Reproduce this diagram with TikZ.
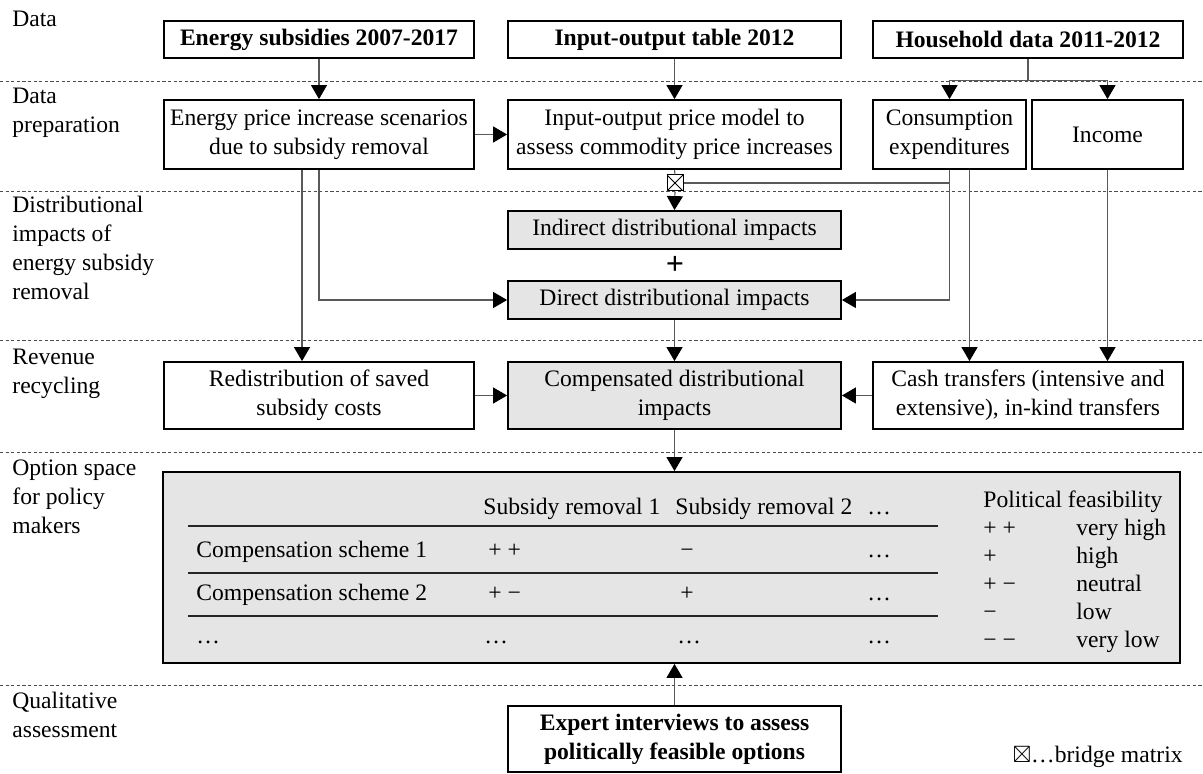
\documentclass[tikz,border=0pt]{standalone}
\usepackage{amssymb}
\usepackage{fontspec}
\setmainfont{Liberation Serif}
\usepackage{tikz}
\usetikzlibrary{positioning,arrows.meta,calc}

\begin{document}
\begin{tikzpicture}[
      x=0.5pt, y=-0.5pt,
      txt/.style   = {font=\fontsize{11.8}{14.5}\selectfont},
      box/.style   = {rectangle, draw, line width=0.9pt, txt, align=center, inner sep=1pt},
      gbox/.style  = {box, fill=black!10},
      hbox/.style  = {box, font=\fontsize{11.8}{14.5}\selectfont\bfseries},
      lbl/.style   = {txt, anchor=north west, align=left, inner sep=0pt},
      cell/.style  = {txt, anchor=base west, inner sep=0pt},
      bmx/.style   = {rectangle, draw, line width=0.5pt, fill=white, minimum size=8pt, inner sep=0pt,
                      path picture={\draw[line width=0.4pt]
                        (path picture bounding box.north west) -- (path picture bounding box.south east)
                        (path picture bounding box.south west) -- (path picture bounding box.north east);}},
      edg/.style   = {draw=black!65, line width=0.55pt},
      arr/.style   = {edg, -{Triangle[length=7pt, width=8pt, color=black]}},
      sep/.style   = {draw=black!70, line width=0.4pt, dash pattern=on 1.6pt off 1.2pt},
      rule/.style  = {draw=black!85, line width=0.9pt},
    ]
    \useasboundingbox (0,0) rectangle (1203,774);

    %% ------------------------------------------------ lanes
    \foreach \y in {81,191,340,452,685}
      \draw[sep] (0,\y) -- (1203,\y);
    \node[lbl] (l-data) at (12,11)  {Data};
    \node[lbl] (l-prep) at (12,88)  {Data\\preparation};
    \node[lbl] (l-dist) at (12,196) {Distributional\\impacts of\\energy subsidy\\removal};
    \node[lbl] (l-rev)  at (12,349) {Revenue\\recycling};
    \node[lbl] (l-opt)  at (12,459) {Option space\\for policy\\makers};
    \node[lbl] (l-qual) at (12,692) {Qualitative\\assessment};

    %% ------------------------------------------------ data
    \node[hbox, minimum width=155pt, minimum height=18.5pt] (es)  at (319,39.5)  {Energy subsidies 2007-2017};
    \node[hbox, minimum width=166.5pt, minimum height=18.5pt] (iot) at (674.5,39.5) {Input-output table 2012};
    \node[hbox, minimum width=155pt, minimum height=18.5pt] (hh)  at (1028,39.5) {Household data 2011-2012};

    %% ------------------------------------------------ data preparation
    \node[box, minimum width=155pt, minimum height=34.5pt] (eps) at (319,134.5)
      {Energy price increase scenarios\\due to subsidy removal};
    \node[box, minimum width=166.5pt, minimum height=34.5pt] (iom) at (674.5,134.5)
      {Input-output price model to\\assess commodity price increases};
    \node[box, minimum width=76.5pt, minimum height=34.5pt] (cons) at (949.5,134.5)
      {Consumption\\expenditures};
    \node[box, minimum width=75.5pt, minimum height=34.5pt] (inc) at (1107.5,134.5) {Income};
    \node[bmx] (bmx) at (675,183) {};

    %% ------------------------------------------------ distributional impacts
    \node[gbox, minimum width=166.5pt, minimum height=19pt] (indir) at (674.5,230)
      {Indirect distributional impacts};
    \node[font=\fontsize{16}{16}\selectfont\bfseries, inner sep=0pt] (plus) at (675,265) {+};
    \node[gbox, minimum width=166.5pt, minimum height=19pt] (dir) at (674.5,300)
      {Direct distributional impacts};

    %% ------------------------------------------------ revenue recycling
    \node[box, minimum width=155pt, minimum height=33.5pt] (redist) at (319,395.5)
      {Redistribution of saved\\subsidy costs};
    \node[gbox, minimum width=166.5pt, minimum height=33.5pt] (comp) at (674.5,395.5)
      {Compensated distributional\\impacts};
    \node[box, minimum width=155pt, minimum height=33.5pt] (cash) at (1028,395.5)
      {Cash transfers (intensive and\\extensive), in-kind transfers};

    %% ------------------------------------------------ option space
    \node[gbox, minimum width=508.5pt, minimum height=95.5pt] (opt) at (671.5,567.5) {};
    \foreach \y in {526,573,616}
      \draw[rule] (188,\y) -- (938,\y);
    \node[cell] (h1) at (483,514) {Subsidy removal 1};
    \node[cell] (h2) at (675,514) {Subsidy removal 2};
    \node[cell] (h3) at (867,514) {…};
    \node[cell] (r1) at (196,557) {Compensation scheme 1};
    \node[cell] (r1a) at (488,557) {+ +};
    \node[cell] (r1b) at (680,557) {−};
    \node[cell] (r1c) at (867,557) {…};
    \node[cell] (r2) at (196,600) {Compensation scheme 2};
    \node[cell] (r2a) at (488,600) {+ −};
    \node[cell] (r2b) at (680,600) {+};
    \node[cell] (r2c) at (867,600) {…};
    \node[cell] (r3) at (196,643) {…};
    \node[cell] (r3a) at (484,643) {…};
    \node[cell] (r3b) at (677,643) {…};
    \node[cell] (r3c) at (867,643) {…};
    % legend
    \node[cell] (pf) at (983,507) {Political feasibility};
    \node[cell] (pf1s) at (983,535) {+ +};  \node[cell] (pf1) at (1076,535) {very high};
    \node[cell] (pf2s) at (983,563) {+};    \node[cell] (pf2) at (1076,563) {high};
    \node[cell] (pf3s) at (983,591) {+ −};  \node[cell] (pf3) at (1076,591) {neutral};
    \node[cell] (pf4s) at (983,619) {−};    \node[cell] (pf4) at (1076,619) {low};
    \node[cell] (pf5s) at (983,647) {− −};  \node[cell] (pf5) at (1076,647) {very low};

    %% ------------------------------------------------ qualitative assessment
    \node[hbox, minimum width=166.5pt, minimum height=33pt] (exp) at (674.5,739)
      {Expert interviews to assess\\politically feasible options};
    \node[txt, anchor=base east, inner sep=0pt] (key) at (1183,762) {$\boxtimes$…bridge matrix};

    %% ------------------------------------------------ connectors
    \draw[arr] (es.south) -- (eps.north);
    \draw[arr] (iot.south) -- (iom.north);
    \draw[arr] (hh.south) -- ++(0,22) -| (cons.north);
    \draw[arr] (hh.south) -- ++(0,22) -| (inc.north);
    \draw[arr] (eps.east) -- (iom.west);
    \draw[edg] (iom.south) -- (bmx.north);
    \draw[arr] (bmx.south) -- (indir.north);
    \draw[edg] (cons.south) |- (bmx.east);
    \draw[arr] (cons.south) |- (dir.east);
    \coordinate (c2) at ([xshift=10pt]cons.south);
    \draw[arr] (c2) -- (c2 |- cash.north);
    \draw[arr] (inc.south) -- (inc.south |- cash.north);
    \coordinate (e1) at ([xshift=-8.5pt]eps.south);
    \draw[arr] (e1) -- (e1 |- redist.north);
    \draw[arr] (eps.south) |- (dir.west);
    \draw[arr] (dir.south) -- (comp.north);
    \draw[arr] (redist.east) -- (comp.west);
    \draw[arr] (cash.west) -- (comp.east);
    \draw[arr] (comp.south) -- (comp.south |- opt.north);
    \draw[arr] (exp.north) -- (exp.north |- opt.south);
  \end{tikzpicture}
\end{document}
